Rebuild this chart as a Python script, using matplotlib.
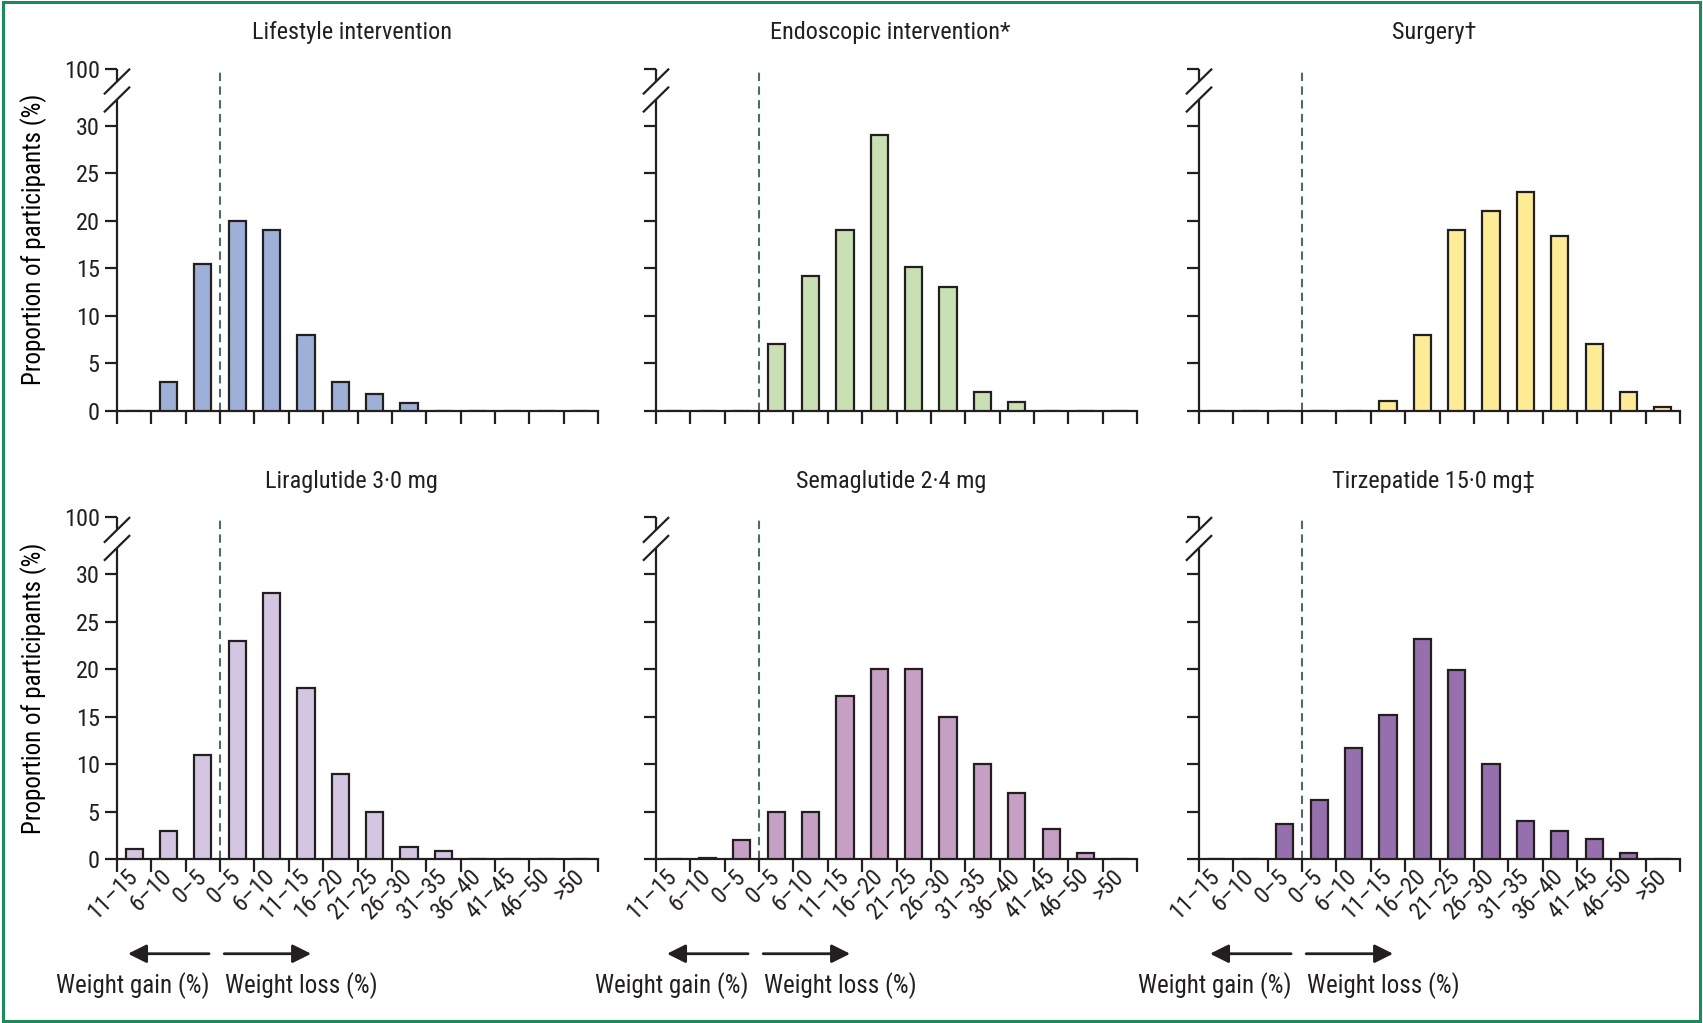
import matplotlib
matplotlib.use("Agg")
import matplotlib.pyplot as plt
from matplotlib import font_manager
from matplotlib.patches import Rectangle
from matplotlib.transforms import blended_transform_factory

installed = {f.name for f in font_manager.fontManager.ttflist}
FONT = "DejaVu Sans"
for cand in ["Liberation Sans Narrow", "Roboto Condensed", "Lato"]:
    if cand in installed:
        FONT = cand
        break
plt.rcParams["font.family"] = [FONT, "DejaVu Sans"]

INK = "#231f20"
plt.rcParams["text.color"] = INK
plt.rcParams["xtick.color"] = INK
plt.rcParams["ytick.color"] = INK

# ---- data ----
categories = ["11–15", "6–10", "0–5", "0–5", "6–10", "11–15", "16–20", "21–25",
              "26–30", "31–35", "36–40", "41–45", "46–50", ">50"]
n_gain = 3  # first three bins are weight gain

lifestyle = [0, 3, 15.5, 20, 19, 8, 3, 1.8, 0.8, 0, 0, 0, 0, 0]
endoscopic = [0, 0, 0, 7, 14.2, 19, 29.1, 15.1, 13, 2, 0.9, 0, 0, 0]
surgery = [0, 0, 0, 0, 0, 1, 8, 19, 21, 23, 18.4, 7, 2, 0.4]
liraglutide = [1.1, 3, 11, 23, 28, 18, 9, 5, 1.3, 0.8, 0, 0, 0, 0]
semaglutide = [0, 0.15, 2, 5, 5, 17.2, 20, 20, 15, 10, 7, 3.2, 0.65, 0]
tirzepatide = [0, 0, 3.7, 6.2, 11.7, 15.2, 23.2, 19.9, 10, 4, 3, 2.1, 0.65, 0]

titles = ["Lifestyle intervention", "Endoscopic intervention*", "Surgery†",
          "Liraglutide 3·0 mg", "Semaglutide 2·4 mg", "Tirzepatide 15·0 mg‡"]
series = [lifestyle, endoscopic, surgery, liraglutide, semaglutide, tirzepatide]
colors = ["#9fb0d8", "#c9e0b4", "#fdeb95", "#d4c6e2", "#c6a0c4", "#9570ad"]

y_ticks = [0, 5, 10, 15, 20, 25, 30]
y_tick_labels = ["0", "5", "10", "15", "20", "25", "30"]
TOP = 36.06          # where the "100" tick sits above the break
BREAK_LO, BREAK_HI = 32.8, 34.7

# ---- layout ----
W, H = 1703, 1023
fig = plt.figure(figsize=(W / 100, H / 100), dpi=100)
col_x = [117, 656, 1199]
row_y = [410.6, 859]     # pixel y of the zero line
ax_w, ax_h = 481, 342


def broken_left_axis(ax):
    ax.spines["left"].set_visible(False)
    kw = dict(color=INK, lw=1.6, clip_on=False, solid_capstyle="butt")
    ax.plot([0, 0], [0, BREAK_LO], **kw)
    ax.plot([0, 0], [BREAK_HI, TOP], **kw)
    for yc in (BREAK_LO, BREAK_HI):
        ax.plot([-0.38, 0.38], [yc - 1.35, yc + 1.35], **kw)


for i, (title, vals, color) in enumerate(zip(titles, series, colors)):
    r, c = divmod(i, 3)
    ax = fig.add_axes([col_x[c] / W, 1 - row_y[r] / H, ax_w / W, ax_h / H])
    xs = [k + 0.5 for k in range(len(categories))]
    ax.bar(xs, vals, width=0.5, color=color, edgecolor=INK, linewidth=1.6, zorder=3)
    ax.plot([n_gain, n_gain], [0, TOP], ls=(0, (4, 2.6)), color="#4d6a73", lw=1.5, zorder=2)

    ax.set_xlim(0, len(categories))
    ax.set_ylim(0, TOP)
    for s in ("top", "right"):
        ax.spines[s].set_visible(False)
    ax.spines["bottom"].set_linewidth(1.6)
    ax.spines["bottom"].set_color(INK)
    broken_left_axis(ax)

    ax.set_xticks(range(len(categories) + 1))
    ax.set_xticklabels([])
    ax.tick_params(axis="x", which="major", direction="out", length=9.5, width=1.6)
    if r == 1:
        ax.set_xticks(xs, minor=True)
        ax.set_xticklabels(categories, minor=True, fontsize=17)
        ax.tick_params(axis="x", which="minor", length=0, pad=10)
        for lab in ax.get_xticklabels(minor=True):
            lab.set_rotation(45)
            lab.set_ha("right")
            lab.set_va("center")
            lab.set_rotation_mode("anchor")

    ax.set_yticks(y_ticks + [TOP])
    if c == 0:
        ax.set_yticklabels(y_tick_labels + ["100"], fontsize=17.5)
        ax.set_ylabel("Proportion of participants (%)", fontsize=18)
        ax.yaxis.set_label_coords(-0.145, 0.5)
    else:
        ax.set_yticklabels([])
    ax.tick_params(axis="y", direction="out", length=8.5, width=1.6, pad=4)

    ax.text(0.488, 1.105, title, transform=ax.transAxes, ha="center", va="center",
            fontsize=17.5)

    if r == 1:
        tr = blended_transform_factory(ax.transData, ax.transAxes)
        akw = dict(arrowstyle="-|>", color=INK, lw=2, mutation_scale=28,
                   shrinkA=0, shrinkB=0)
        ax.annotate("", xy=(0.32, -0.277), xytext=(2.68, -0.277),
                    xycoords=tr, textcoords=tr, arrowprops=akw, annotation_clip=False)
        ax.annotate("", xy=(5.65, -0.277), xytext=(3.12, -0.277),
                    xycoords=tr, textcoords=tr, arrowprops=akw, annotation_clip=False)
        ax.text(2.7, -0.371, "Weight gain (%)", transform=tr, ha="right", va="center",
                fontsize=18)
        ax.text(3.15, -0.371, "Weight loss (%)", transform=tr, ha="left", va="center",
                fontsize=18)

# green frame round the figure
fig.patches.append(Rectangle((0.0015, 0.002), 0.997, 0.996, transform=fig.transFigure,
                             fill=False, ec="#1e8a5c", lw=2.2))

fig.savefig("out.png", dpi=100)
